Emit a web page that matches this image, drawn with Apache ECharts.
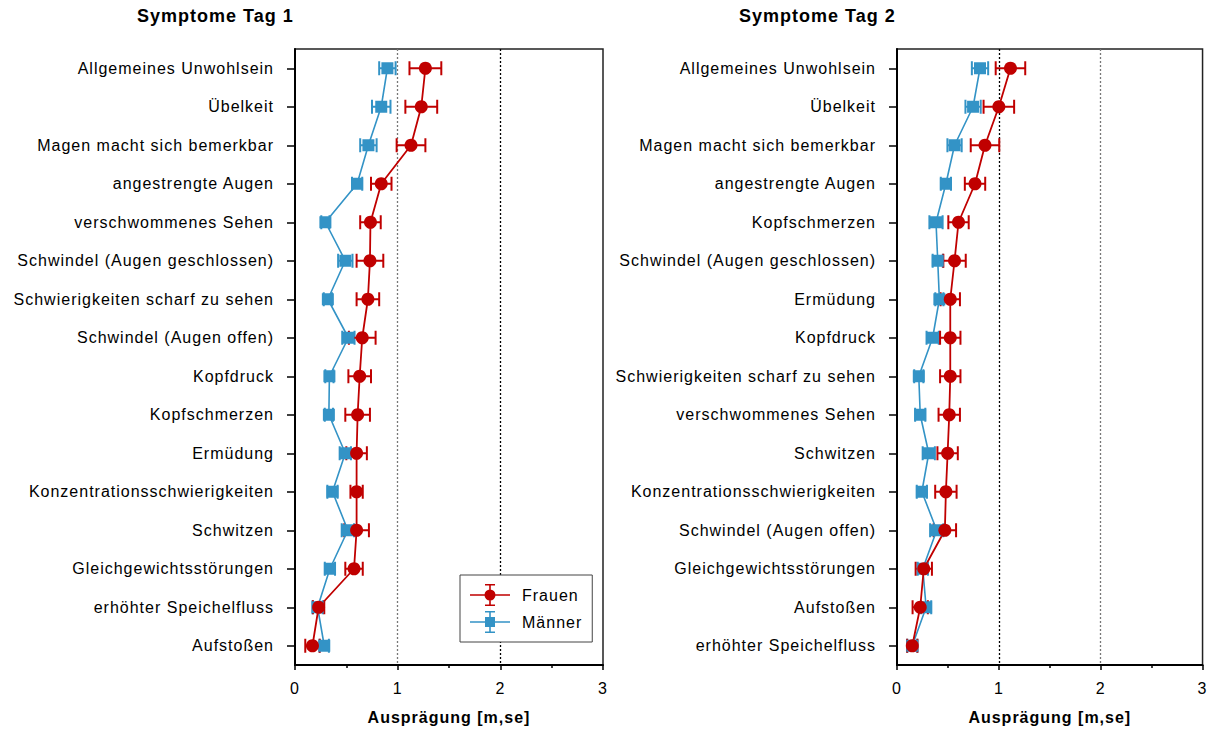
<!DOCTYPE html>
<html>
<head>
<meta charset="utf-8">
<script src="https://cdn.jsdelivr.net/npm/echarts@6/dist/echarts.min.js"></script>
<style>
  html, body { margin: 0; padding: 0; background: #fff; }
  #chart { width: 1210px; height: 731px; }
  #chart svg text { letter-spacing: 1px; }
</style>
</head>
<body>
<div id="chart"></div>
<script>
// Symptom ratings (mean and standard error) for women and men, day 1 and day 2
const tag1Categories = [
  'Allgemeines Unwohlsein', 'Übelkeit', 'Magen macht sich bemerkbar', 'angestrengte Augen',
  'verschwommenes Sehen', 'Schwindel (Augen geschlossen)', 'Schwierigkeiten scharf zu sehen',
  'Schwindel (Augen offen)', 'Kopfdruck', 'Kopfschmerzen', 'Ermüdung',
  'Konzentrationsschwierigkeiten', 'Schwitzen', 'Gleichgewichtsstörungen',
  'erhöhter Speichelfluss', 'Aufstoßen'
];
const tag1Frauen   = [1.27, 1.23, 1.13, 0.84, 0.735, 0.73, 0.71, 0.655, 0.63, 0.61, 0.60, 0.60, 0.60, 0.575, 0.23, 0.17];
const tag1FrauenSE = [0.155, 0.155, 0.14, 0.10, 0.10, 0.13, 0.11, 0.13, 0.11, 0.12, 0.10, 0.06, 0.12, 0.085, 0.055, 0.07];
const tag1Maenner   = [0.90, 0.84, 0.715, 0.605, 0.296, 0.49, 0.32, 0.52, 0.335, 0.33, 0.49, 0.365, 0.515, 0.34, 0.22, 0.285];
const tag1MaennerSE = [0.08, 0.09, 0.08, 0.05, 0.04, 0.07, 0.04, 0.06, 0.04, 0.04, 0.055, 0.05, 0.06, 0.05, 0.05, 0.045];

const tag2Categories = [
  'Allgemeines Unwohlsein', 'Übelkeit', 'Magen macht sich bemerkbar', 'angestrengte Augen',
  'Kopfschmerzen', 'Schwindel (Augen geschlossen)', 'Ermüdung', 'Kopfdruck',
  'Schwierigkeiten scharf zu sehen', 'verschwommenes Sehen', 'Schwitzen',
  'Konzentrationsschwierigkeiten', 'Schwindel (Augen offen)', 'Gleichgewichtsstörungen',
  'Aufstoßen', 'erhöhter Speichelfluss'
];
const tag2Frauen   = [1.114, 1.0, 0.864, 0.766, 0.604, 0.565, 0.523, 0.523, 0.523, 0.513, 0.497, 0.48, 0.47, 0.263, 0.228, 0.15];
const tag2FrauenSE = [0.145, 0.15, 0.14, 0.10, 0.10, 0.11, 0.095, 0.10, 0.10, 0.105, 0.10, 0.105, 0.11, 0.08, 0.075, 0.05];
const tag2Maenner   = [0.815, 0.747, 0.565, 0.48, 0.383, 0.40, 0.416, 0.35, 0.214, 0.228, 0.312, 0.244, 0.39, 0.253, 0.286, 0.15];
const tag2MaennerSE = [0.08, 0.075, 0.07, 0.05, 0.065, 0.05, 0.04, 0.06, 0.045, 0.05, 0.06, 0.05, 0.065, 0.05, 0.05, 0.05];

const panelTitles = ['Symptome Tag 1', 'Symptome Tag 2'];
const xTicks = [0, 1, 2, 3];
const axisTitle = 'Ausprägung [m,se]';

const RED = '#c00000';
const BLUE = '#3393c6';
const FONT = "'Liberation Sans', Arial, sans-serif";

// legend glyphs: line + vertical error bar + marker (40 x 22 box)
const ICON_BASE = 'M0 10.2h40v1.6H0Z M15 0h10v1.6H15Z M15 20.4h10v1.6H15Z M19.2 0h1.6v22h-1.6Z ';
const ICON_F = 'path://' + ICON_BASE + 'M14.5 11a5.5 5.5 0 1 1 11 0a5.5 5.5 0 1 1 -11 0Z';
const ICON_M = 'path://' + ICON_BASE + 'M15 6h10v10H15Z';

const chart = echarts.init(document.getElementById('chart'), null, { renderer: 'svg' });

function errorBars(params, api) {
  const m = api.value(0), idx = api.value(1), se = api.value(2);
  const lo = api.coord([m - se, idx]);
  const hi = api.coord([m + se, idx]);
  const h = 7;
  const style = { stroke: api.visual('color'), lineWidth: 2 };
  return {
    type: 'group',
    children: [
      { type: 'line', shape: { x1: lo[0], y1: lo[1], x2: hi[0], y2: hi[1] }, style },
      { type: 'line', shape: { x1: lo[0], y1: lo[1] - h, x2: lo[0], y2: lo[1] + h }, style },
      { type: 'line', shape: { x1: hi[0], y1: hi[1] - h, x2: hi[0], y2: hi[1] + h }, style }
    ]
  };
}

function pairs(vals) { return vals.map((v, i) => [v, i]); }
function triples(vals, se) { return vals.map((v, i) => [v, i, se[i]]); }

function xAxis(gi, splitColors) {
  return {
    gridIndex: gi, type: 'value', min: xTicks[0], max: xTicks[xTicks.length - 1], interval: 1,
    axisLine: { show: true, lineStyle: { color: '#000', width: 2 } },
    axisTick: { show: true, length: 5, lineStyle: { color: '#000', width: 1.5 } },
    minorTick: { show: true, splitNumber: 2, length: 3, lineStyle: { color: '#000', width: 1.5 } },
    axisLabel: { fontSize: 16, margin: 15, color: '#000', fontFamily: FONT },
    splitLine: {
      show: true, showMinLine: false, showMaxLine: false,
      lineStyle: { color: splitColors, type: [2, 2], width: 1.3 }
    },
    name: axisTitle, nameLocation: 'middle', nameGap: 52,
    nameTextStyle: { fontSize: 16, fontWeight: 'bold', color: '#000', fontFamily: FONT, verticalAlign: 'middle' }
  };
}

function yAxis(gi, cats) {
  return {
    gridIndex: gi, type: 'category', data: cats, inverse: true, boundaryGap: true,
    axisLine: { show: true, lineStyle: { color: '#000', width: 2 } },
    axisTick: { show: true, alignWithLabel: true, length: 8, lineStyle: { color: '#000', width: 1.5 } },
    axisLabel: { interval: 0, margin: 21, fontSize: 16, color: '#000', fontFamily: FONT },
    splitLine: { show: false }
  };
}

function panelSeries(gi, fr, frSE, ma, maSE) {
  return [
    { name: 'Männer', type: 'custom', xAxisIndex: gi, yAxisIndex: gi, renderItem: errorBars,
      itemStyle: { color: BLUE }, encode: { x: 0, y: 1 }, data: triples(ma, maSE) },
    { name: 'Männer', type: 'line', xAxisIndex: gi, yAxisIndex: gi, data: pairs(ma),
      symbol: 'rect', symbolSize: 12, itemStyle: { color: BLUE },
      lineStyle: { color: BLUE, width: 1.6 } },
    { name: 'Frauen', type: 'custom', xAxisIndex: gi, yAxisIndex: gi, renderItem: errorBars,
      itemStyle: { color: RED }, encode: { x: 0, y: 1 }, data: triples(fr, frSE) },
    { name: 'Frauen', type: 'line', xAxisIndex: gi, yAxisIndex: gi, data: pairs(fr),
      symbol: 'circle', symbolSize: 13, itemStyle: { color: RED },
      lineStyle: { color: RED, width: 1.8 } }
  ];
}

chart.setOption({
  animation: false,
  backgroundColor: '#fff',
  textStyle: { fontFamily: FONT },
  title: [
    { text: panelTitles[0], left: 137, top: 7, padding: 0,
      textStyle: { fontSize: 18, fontWeight: 'bold', color: '#000', fontFamily: FONT } },
    { text: panelTitles[1], left: 739, top: 7, padding: 0,
      textStyle: { fontSize: 18, fontWeight: 'bold', color: '#000', fontFamily: FONT } }
  ],
  legend: {
    orient: 'vertical', left: 460, top: 575,
    padding: [9, 16, 9, 10], itemGap: 5, itemWidth: 40, itemHeight: 22,
    backgroundColor: '#fff', borderColor: '#444', borderWidth: 1,
    itemStyle: { borderWidth: 0 },
    textStyle: { fontSize: 16, color: '#000', fontFamily: FONT, padding: [0, 0, 0, 7] },
    data: [ { name: 'Frauen', icon: ICON_F }, { name: 'Männer', icon: ICON_M } ]
  },
  grid: [
    { left: 295, top: 49, width: 308, height: 616, show: true, borderColor: '#222', borderWidth: 1.5 },
    { left: 897, top: 49, width: 308, height: 616, show: true, borderColor: '#222', borderWidth: 1.5 }
  ],
  xAxis: [ xAxis(0, ['#777', '#000']), xAxis(1, ['#000', '#777']) ],
  yAxis: [ yAxis(0, tag1Categories), yAxis(1, tag2Categories) ],
  series: [].concat(
    panelSeries(0, tag1Frauen, tag1FrauenSE, tag1Maenner, tag1MaennerSE),
    panelSeries(1, tag2Frauen, tag2FrauenSE, tag2Maenner, tag2MaennerSE)
  )
});
</script>
</body>
</html>
